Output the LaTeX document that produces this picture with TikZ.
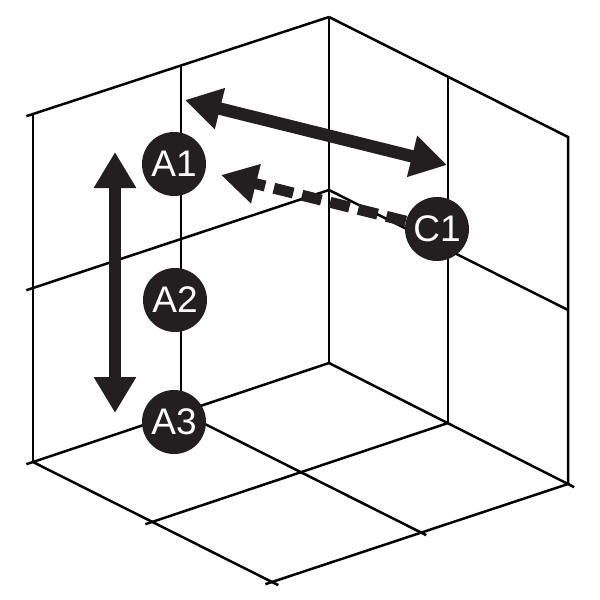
\documentclass[tikz,border=0pt]{standalone}
\usepackage{fontspec}
\setmainfont{Liberation Sans}
\usetikzlibrary{arrows.meta}
\definecolor{ink}{HTML}{231F20}
\begin{document}
\begin{tikzpicture}[x=1pt,y=-1pt,
  edge/.style={line width=2.5pt, black, line cap=butt},
  badge/.style={circle, fill=ink, minimum size=64pt, inner sep=0pt, text=white,
    font=\fontsize{37}{37}\selectfont},
  bigarrow/.style={line width=12.5pt, ink},
  bighead/.tip={Triangle[width=40pt,length=36pt]},
  dasharrow/.style={line width=11pt, ink, dash pattern=on 20pt off 9pt}
]
\useasboundingbox (0,0) rectangle (600,600);
% corners
\coordinate (O) at (329,363);
\coordinate (T) at (329,17);
\coordinate (L) at (33,462);
\coordinate (LT) at (33,114);
\coordinate (R) at (568,484);
\coordinate (RT) at (568,137);
\coordinate (F) at (272,582);
\coordinate (LTm) at (181,66);
\coordinate (LBm) at (181,412);
\coordinate (LWl) at (33,288);
\coordinate (Om) at (329,190);
\coordinate (RTm) at (448,77);
\coordinate (RBm) at (448,423);
\coordinate (RWr) at (568,310);
\coordinate (FL) at (152,522);
\coordinate (FR) at (420,532);
% edges
\draw[edge] (T) -- (O);
\draw[edge, shorten >=-7pt] (T) -- (LT);
\draw[edge] (LT) -- (L);
\draw[edge, shorten >=-7pt] (O) -- (L);
\draw[edge] (T) -- (RT) -- (R);
\draw[edge, shorten >=-7pt] (O) -- (R);
\draw[edge, shorten >=-7pt] (L) -- (F);
\draw[edge, shorten >=-7pt] (R) -- (F);
\draw[edge] (LTm) -- (LBm);
\draw[edge] (RTm) -- (RBm);
\draw[edge, shorten >=-7pt] (Om) -- (LWl);
\draw[edge] (Om) -- (RWr);
\draw[edge, shorten >=-7pt] (LBm) -- (FR);
\draw[edge, shorten >=-7pt] (RBm) -- (FL);
% badges
\node[badge] (A1) at (174,164) {A1};
\node[badge] (A2) at (175,300) {A2};
\node[badge] (A3) at (174,422) {A3};
\node[badge] (C1) at (437,229) {C1};
% arrows
\coordinate (Vt) at (115,152);
\coordinate (Vb) at (115,413);
\draw[bigarrow, {bighead}-{bighead}] (Vt) -- (Vb);
\coordinate (Ht1) at (185,100);
\coordinate (Ht2) at (447,165);
\draw[bigarrow, {bighead}-{bighead}] (Ht1) -- (Ht2);
\coordinate (Dt) at (221,175);
\draw[dasharrow, -{Triangle[width=38pt,length=36pt]}] (C1) -- (Dt);
\end{tikzpicture}
\end{document}
